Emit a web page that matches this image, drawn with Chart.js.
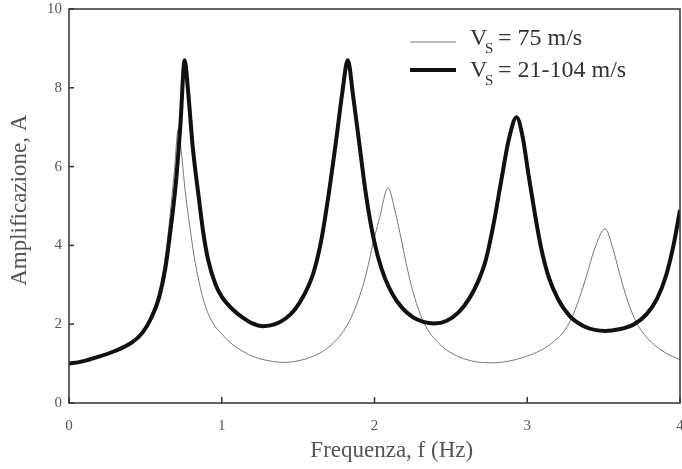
<!DOCTYPE html>
<html>
<head>
<meta charset="utf-8">
<script src="https://cdn.jsdelivr.net/npm/chart.js@4"></script>
<style>
  html, body { margin: 0; padding: 0; background: #fff; }
  canvas { display: block; }
</style>
</head>
<body>
<canvas id="grafico" width="682" height="469"></canvas>
<script>
// Vs = 21-104 m/s (curva spessa)
const freqSpessa = [0.00, 0.08, 0.19, 0.30, 0.41, 0.48, 0.54, 0.59, 0.63, 0.66, 0.70, 0.73, 0.757, 0.78, 0.81, 0.85, 0.88, 0.91, 0.96, 1.00, 1.07, 1.14, 1.20, 1.27, 1.35, 1.42, 1.48, 1.54, 1.60, 1.65, 1.70, 1.75, 1.79, 1.825, 1.86, 1.90, 1.94, 1.98, 2.02, 2.07, 2.12, 2.18, 2.25, 2.32, 2.39, 2.47, 2.55, 2.62, 2.68, 2.73, 2.78, 2.83, 2.88, 2.93, 2.97, 3.01, 3.05, 3.09, 3.14, 3.20, 3.28, 3.37, 3.45, 3.51, 3.60, 3.70, 3.78, 3.85, 3.91, 3.96, 4.00];
const ampSpessa  = [1.00, 1.05, 1.17, 1.32, 1.53, 1.78, 2.17, 2.68, 3.40, 4.25, 5.60, 7.10, 8.70, 7.90, 6.50, 5.20, 4.30, 3.65, 3.00, 2.70, 2.38, 2.16, 2.02, 1.95, 2.00, 2.15, 2.38, 2.75, 3.30, 4.10, 5.30, 6.70, 7.90, 8.70, 7.80, 6.60, 5.40, 4.45, 3.75, 3.15, 2.75, 2.42, 2.18, 2.06, 2.02, 2.08, 2.30, 2.65, 3.10, 3.65, 4.55, 5.65, 6.70, 7.25, 6.75, 5.75, 4.80, 3.95, 3.20, 2.65, 2.20, 1.95, 1.85, 1.83, 1.87, 2.00, 2.25, 2.65, 3.25, 4.05, 4.90];

// Vs = 75 m/s (curva sottile)
const freqSottile = [0.00, 0.19, 0.30, 0.41, 0.48, 0.54, 0.59, 0.63, 0.66, 0.69, 0.715, 0.74, 0.76, 0.79, 0.82, 0.85, 0.88, 0.91, 0.95, 1.00, 1.06, 1.13, 1.22, 1.31, 1.40, 1.50, 1.60, 1.68, 1.75, 1.81, 1.86, 1.91, 1.95, 1.99, 2.03, 2.09, 2.13, 2.17, 2.21, 2.25, 2.30, 2.35, 2.40, 2.47, 2.56, 2.66, 2.78, 2.90, 3.02, 3.10, 3.18, 3.24, 3.29, 3.34, 3.39, 3.44, 3.51, 3.56, 3.60, 3.64, 3.68, 3.72, 3.78, 3.85, 3.92, 4.00];
const ampSottile  = [1.00, 1.17, 1.33, 1.55, 1.82, 2.25, 2.85, 3.70, 4.70, 5.90, 6.95, 6.20, 5.40, 4.50, 3.70, 3.10, 2.62, 2.28, 1.98, 1.75, 1.52, 1.33, 1.16, 1.07, 1.03, 1.07, 1.19, 1.36, 1.60, 1.90, 2.28, 2.80, 3.35, 4.05, 4.65, 5.46, 4.95, 4.25, 3.50, 2.85, 2.25, 1.85, 1.60, 1.35, 1.16, 1.05, 1.02, 1.08, 1.22, 1.36, 1.58, 1.82, 2.15, 2.65, 3.25, 3.90, 4.42, 3.93, 3.35, 2.80, 2.35, 2.00, 1.68, 1.42, 1.24, 1.10];

const tickX = [0, 1, 2, 3, 4];
const tickY = [0, 2, 4, 6, 8, 10];

const punti = (xs, ys) => xs.map((x, i) => ({ x: x, y: ys[i] }));

const FONT = '"Liberation Serif", "Times New Roman", serif';
const GRIGIO = '#555';

// cornice, tacche interne e legenda
const cornice = {
    id: 'cornice',
    afterDraw(chart) {
        const ctx = chart.ctx;
        const a = chart.chartArea;
        const sx = chart.scales.x, sy = chart.scales.y;
        ctx.save();
        ctx.strokeStyle = '#333';
        ctx.lineWidth = 1.5;
        ctx.strokeRect(a.left, a.top, a.right - a.left, a.bottom - a.top);
        tickY.forEach(v => {
            const y = sy.getPixelForValue(v);
            ctx.beginPath(); ctx.moveTo(a.left, y); ctx.lineTo(a.left + 5, y); ctx.stroke();
        });
        tickX.forEach(v => {
            const x = sx.getPixelForValue(v);
            ctx.beginPath(); ctx.moveTo(x, a.bottom); ctx.lineTo(x, a.bottom - 6); ctx.stroke();
        });

        // legenda
        const voci = [
            { testo: '= 75 m/s', y: 42, base: 45, w: 1, col: '#777' },
            { testo: '= 21-104 m/s', y: 70, base: 77, w: 4, col: '#111' }
        ];
        voci.forEach(v => {
            ctx.strokeStyle = v.col;
            ctx.lineWidth = v.w;
            ctx.beginPath(); ctx.moveTo(410, v.y); ctx.lineTo(456, v.y); ctx.stroke();
            ctx.fillStyle = '#333';
            ctx.textBaseline = 'alphabetic';
            ctx.font = '24px ' + FONT;
            ctx.fillText('V', 470, v.base);
            ctx.font = '15px ' + FONT;
            ctx.fillText('S', 485, v.base + 8);
            ctx.font = '24px ' + FONT;
            ctx.fillText(v.testo, 498, v.base);
        });
        ctx.restore();
    }
};

new Chart(document.getElementById('grafico'), {
    type: 'line',
    data: {
        datasets: [
            {
                label: 'Vs = 21-104 m/s',
                data: punti(freqSpessa, ampSpessa),
                borderColor: '#111',
                borderWidth: 4,
                cubicInterpolationMode: 'monotone',
                pointRadius: 0,
                order: 1
            },
            {
                label: 'Vs = 75 m/s',
                data: punti(freqSottile, ampSottile),
                borderColor: '#777',
                borderWidth: 1,
                cubicInterpolationMode: 'monotone',
                pointRadius: 0,
                order: 2
            }
        ]
    },
    options: {
        responsive: false,
        animation: false,
        layout: { padding: { top: 9, right: 2, left: 0, bottom: 0 } },
        plugins: { legend: { display: false }, tooltip: { enabled: false } },
        scales: {
            x: {
                type: 'linear',
                min: 0, max: 4,
                afterBuildTicks: s => { s.ticks = tickX.map(v => ({ value: v })); },
                afterFit: s => { s.height = 66; s.paddingRight = 0; s.paddingLeft = 0; },
                grid: { display: false, drawTicks: false },
                border: { display: false },
                ticks: { padding: 14, color: GRIGIO, font: { family: FONT, size: 15 } },
                title: { display: true, text: '      Frequenza, f (Hz)', color: GRIGIO, padding: { top: 0, bottom: 4 }, font: { family: FONT, size: 23 } }
            },
            y: {
                min: 0, max: 10,
                afterBuildTicks: s => { s.ticks = tickY.map(v => ({ value: v })); },
                afterFit: s => { s.width = 69; s.paddingTop = 0; s.paddingBottom = 0; },
                grid: { display: false, drawTicks: false },
                border: { display: false },
                ticks: { padding: 7, color: GRIGIO, font: { family: FONT, size: 15 } },
                title: { display: true, text: '  Amplificazione, A', color: GRIGIO, padding: { top: 6, bottom: 0 }, font: { family: FONT, size: 23 } }
            }
        }
    },
    plugins: [cornice]
});
</script>
</body>
</html>
